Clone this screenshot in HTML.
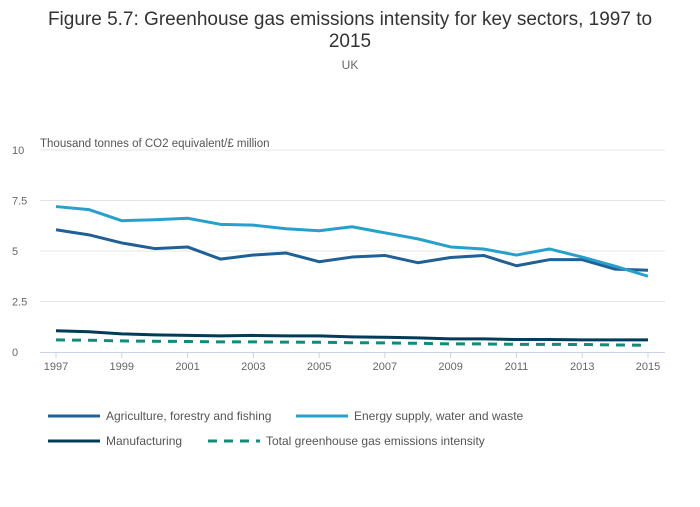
<!DOCTYPE html>
<html><head><meta charset="utf-8"><style>
body{margin:0;background:#fff;font-family:"Liberation Sans",sans-serif}
svg text{font-family:"Liberation Sans",sans-serif}
</style></head><body>
<svg id="c" width="700" height="502">
<text x="350" y="25" text-anchor="middle" font-size="19" fill="#333">Figure 5.7: Greenhouse gas emissions intensity for key sectors, 1997 to</text>
<text x="350" y="47" text-anchor="middle" font-size="19" fill="#333">2015</text>
<text x="350" y="69" text-anchor="middle" font-size="12" fill="#666">UK</text>
<text x="40" y="147" font-size="11.5" fill="#555">Thousand tonnes of CO2 equivalent/£ million</text>
<g id="grid"></g><g id="series"></g><g id="legend"></g>
</svg>
<script>
const years=[1997,1998,1999,2000,2001,2002,2003,2004,2005,2006,2007,2008,2009,2010,2011,2012,2013,2014,2015];
const agri=[6.05,5.8,5.4,5.12,5.2,4.6,4.8,4.9,4.47,4.7,4.78,4.42,4.68,4.78,4.27,4.57,4.57,4.1,4.05];
const energy=[7.2,7.05,6.5,6.55,6.62,6.32,6.28,6.1,6.0,6.2,5.9,5.6,5.2,5.1,4.8,5.1,4.7,4.25,3.75];
const manuf=[1.05,1.0,0.9,0.85,0.82,0.8,0.82,0.8,0.8,0.75,0.73,0.7,0.65,0.65,0.62,0.62,0.6,0.6,0.6];
const total=[0.6,0.58,0.55,0.53,0.52,0.5,0.5,0.49,0.48,0.46,0.45,0.43,0.4,0.4,0.38,0.38,0.37,0.35,0.33];
const yTicks=[0,2.5,5,7.5,10];
const yTickLabels=["0","2.5","5","7.5","10"];
const xTickYears=[1997,1999,2001,2003,2005,2007,2009,2011,2013,2015];
const NS="http://www.w3.org/2000/svg";
const X=y=>56+(y-1997)*(648-56)/18;
const Y=v=>352-v*20.2;
function mk(t,a,p){const e=document.createElementNS(NS,t);for(const k in a)e.setAttribute(k,a[k]);p.appendChild(e);return e;}
const g=document.getElementById('grid');
yTicks.forEach((v,i)=>{
 if(v>0){const l=mk('line',{x1:40,x2:665,y1:Y(v),y2:Y(v),stroke:'#e4e4e4'},g);
 
 }
 const t=mk('text',{x:24,y:Y(v)+4,'font-size':11,fill:'#666','text-anchor':'end'},g);t.textContent=yTickLabels[i];
 t.setAttribute('x',24);t.setAttribute('text-anchor','end');
 
 
});
g.querySelectorAll('text').forEach(t=>{t.setAttribute('text-anchor','start');t.setAttribute('x',12);});
const ax=mk('line',{x1:40,x2:665,y1:352.5,y2:352.5,stroke:'#c8d3e3'},g);


xTickYears.forEach(y=>{
 mk('line',{x1:X(y),x2:X(y),y1:352,y2:358,stroke:'#c8d3e3'},g);
 const t=mk('text',{x:X(y),y:370,'font-size':11,fill:'#666','text-anchor':'middle'},g);t.textContent=y;
 
 
});
const S=[
 {n:'Agriculture, forestry and fishing',d:agri,c:'#206095',dash:null,id:'series-agriculture'},
 {n:'Energy supply, water and waste',d:energy,c:'#27a0cc',dash:null,id:'series-energy'},
 {n:'Manufacturing',d:manuf,c:'#003c57',dash:null,id:'series-manufacturing'},
 {n:'Total greenhouse gas emissions intensity',d:total,c:'#118c7b',dash:'9,7',id:'series-total'}];
const sg=document.getElementById('series');
S.forEach(s=>{
 const p=mk('polyline',{points:s.d.map((v,i)=>X(years[i])+','+Y(v)).join(' '),fill:'none',stroke:s.c,'stroke-width':3,'stroke-linejoin':'round'},sg);
 if(s.dash)p.setAttribute('stroke-dasharray',s.dash);
 
 
});
const lg=document.getElementById('legend');
const pos=[[48,416],[296,416],[48,441],[208,441]];
S.forEach((s,i)=>{
 const [x,y]=pos[i];
 const e=mk('g',{},lg);
 
 
 const l=mk('line',{x1:x,x2:x+52,y1:y,y2:y,stroke:s.c,'stroke-width':3},e);
 if(s.dash)l.setAttribute('stroke-dasharray',s.dash);
 const t=mk('text',{x:x+58,y:y+4,'font-size':12,fill:'#555'},e);t.textContent=s.n;
});
</script>
</body></html>
